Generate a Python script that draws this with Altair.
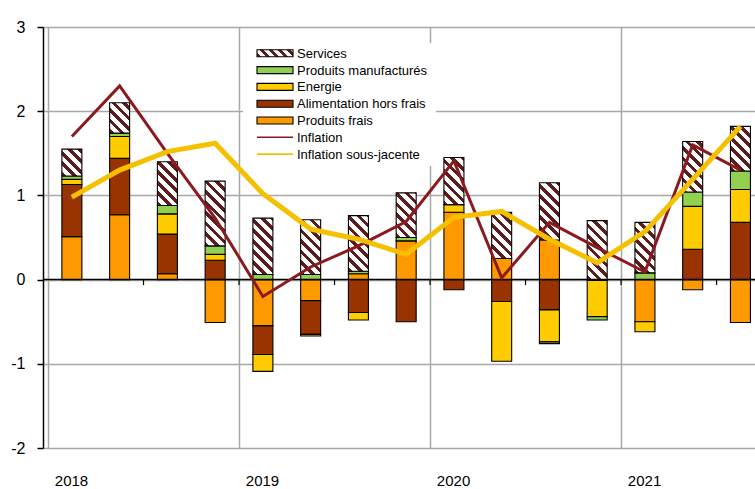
import altair as alt
import pandas as pd

# ---------------- data ----------------
quarters = ["2018T1", "2018T2", "2018T3", "2018T4",
            "2019T1", "2019T2", "2019T3", "2019T4",
            "2020T1", "2020T2", "2020T3", "2020T4",
            "2021T1", "2021T2", "2021T3"]
years = ["2018", "2019", "2020", "2021"]

produits_frais = [0.51, 0.77, 0.07, -0.51, -0.55, -0.25, 0.07, 0.46, 0.80, 0.25, 0.47, 0.00, -0.50, -0.12, -0.51]
alimentation   = [0.62, 0.67, 0.47, 0.23, -0.34, -0.40, -0.39, -0.50, -0.12, -0.26, -0.36, -0.01, 0.00, 0.36, 0.68]
energie        = [0.06, 0.26, 0.24, 0.07, -0.20, -0.02, -0.09, 0.00, 0.09, -0.71, -0.38, -0.43, -0.12, 0.51, 0.39]
manufactures   = [0.04, 0.04, 0.10, 0.10, 0.06, 0.06, 0.03, 0.04, 0.00, 0.00, -0.02, -0.04, 0.08, 0.17, 0.22]
services       = [0.32, 0.36, 0.52, 0.77, 0.67, 0.65, 0.66, 0.53, 0.56, 0.55, 0.68, 0.70, 0.60, 0.60, 0.53]
inflation      = [1.70, 2.30, 1.50, 0.73, -0.20, 0.15, 0.40, 0.69, 1.41, 0.02, 0.68, 0.38, 0.09, 1.60, 1.30]
inflation_sj   = [0.98, 1.30, 1.52, 1.62, 1.02, 0.60, 0.48, 0.30, 0.74, 0.81, 0.48, 0.20, 0.57, 1.19, 1.82]

components = ["Produits frais", "Alimentation hors frais", "Energie", "Produits manufacturés", "Services"]
comp_colors = ["#FF9900", "#993300", "#FFCC00", "#92D050"]
legend_labels = ["Services", "Produits manufacturés", "Energie", "Alimentation hors frais",
                 "Produits frais", "Inflation", "Inflation sous-jacente"]
series = [produits_frais, alimentation, energie, manufactures, services]

# ---------------- layout constants ----------------
W, H = 712, 421
PAD_L, PAD_T = 43, 27
X_MAX = 14.7
Y_MIN, Y_MAX = -2, 3
PX_PER_UNIT = H / (Y_MAX - Y_MIN)
BAR_W = 20
FONT = "Liberation Sans, Arial, sans-serif"
HATCH = "#5a1e1e"
GRID = "#a8a8a8"
INFL_COLOR = "#8B1A1F"
SJ_COLOR = "#F5C000"


def hatch(w, h, period=10.5, dark=0.45, color=HATCH):
    """diagonal '\\' stripes as a linear gradient in bounding-box units"""
    L = w + h
    k = L / (w * w + h * h)
    stops = []
    j = 0
    while j * period <= L:
        a = j * period / L
        b = min((j * period + dark * period) / L, 1.0)
        stops += [{"offset": a, "color": "white"}, {"offset": a, "color": color},
                  {"offset": b, "color": color}, {"offset": b, "color": "white"}]
        j += 1
    stops.append({"offset": 1.0, "color": "white"})
    return {"gradient": "linear", "x1": 0, "y1": 1, "x2": k * w, "y2": 1 - k * h, "stops": stops}


rows = []
for ci, (name, vals) in enumerate(zip(components, series)):
    for qi, v in enumerate(vals):
        rows.append({"i": qi, "quarter": quarters[qi], "comp": name, "order": ci, "value": v})
bars_df = pd.DataFrame(rows)

lines_df = pd.DataFrame({"i": list(range(len(quarters))), "quarter": quarters,
                         "inflation": inflation, "sj": inflation_sj})

x_scale = alt.Scale(domain=[0, X_MAX], nice=False, zero=False)
y_scale = alt.Scale(domain=[Y_MIN, Y_MAX], nice=False)

x_axis = alt.Axis(values=[0, 4, 8, 12], grid=True, gridColor=GRID, gridWidth=1.5,
                  domain=False, ticks=False, labelOffset=23, labelPadding=25, labelFlush=False,
                  labelExpr="[" + ",".join("'%s'" % y for y in years) + "][datum.value / 4]",
                  labelFont=FONT, labelFontSize=15, labelColor="black", title=None)
y_axis = alt.Axis(values=list(range(Y_MIN, Y_MAX + 1)), grid=True, gridColor=GRID, gridWidth=1.5,
                  domainColor="black", domainWidth=1.5, tickColor="black", tickWidth=1.5,
                  tickSize=6, labelPadding=12, labelExpr="'' + datum.value",
                  labelFont=FONT, labelFontSize=16, labelColor="black", title=None)

base = (alt.Chart(bars_df)
        .transform_filter("datum.value != 0")
        .transform_stack(stack="value", groupby=["i"], as_=["y0", "y1"],
                         sort=[alt.SortField("order", order="ascending")])
        .transform_calculate(xc="datum.i + 0.5"))

fill_scale = alt.Scale(domain=components[:4], range=comp_colors)

colored = (base.transform_filter("datum.comp != 'Services'")
           .mark_bar(width=BAR_W, stroke="black", strokeWidth=1.1, clip=True)
           .encode(x=alt.X("xc:Q", scale=x_scale, axis=x_axis),
                   y=alt.Y("y1:Q", scale=y_scale, axis=y_axis),
                   y2="y0:Q",
                   fill=alt.Fill("comp:N", scale=fill_scale, legend=None)))

serv_conditions = [{"test": "datum.i == %d" % qi, "value": hatch(BAR_W, v * PX_PER_UNIT)}
                   for qi, v in enumerate(services)]
serv = (base.transform_filter("datum.comp == 'Services'")
        .mark_bar(width=BAR_W, stroke="black", strokeWidth=1.1, clip=True)
        .encode(x="xc:Q", y="y1:Q", y2="y0:Q",
                fill=alt.FillValue(value="white", condition=serv_conditions)))

zero_rule = (alt.Chart(pd.DataFrame({"z": [0]}))
             .mark_rule(color="black", strokeWidth=1.5)
             .encode(y="z:Q"))

zero_ticks = (alt.Chart(pd.DataFrame({"t": list(range(2, 15, 2))}))
              .transform_calculate(lo="-0.065", hi="0")
              .mark_rule(color="black", strokeWidth=1.2)
              .encode(x="t:Q", y="lo:Q", y2="hi:Q"))

line_infl = (alt.Chart(lines_df).transform_calculate(xc="datum.i + 0.5")
             .mark_line(color=INFL_COLOR, strokeWidth=3, clip=True)
             .encode(x="xc:Q", y="inflation:Q"))
line_sj = (alt.Chart(lines_df).transform_calculate(xc="datum.i + 0.5")
           .mark_line(color=SJ_COLOR, strokeWidth=5, clip=True)
           .encode(x="xc:Q", y="sj:Q"))

# ---------------- legend (drawn in pixel space of the plot area) ----------------
LEG_Y0 = 53.3 - PAD_T
LEG_DY = 16.8
SW_X0, SW_X1, TX_X = 257 - PAD_L, 293 - PAD_L, 297 - PAD_L

leg_df = pd.DataFrame({"label": legend_labels, "row": list(range(len(legend_labels)))})
leg_base = alt.Chart(leg_df).transform_calculate(
    ly="%f + %f * datum.row" % (LEG_Y0, LEG_DY),
    ly0="%f + %f * datum.row - 3.5" % (LEG_Y0, LEG_DY),
    ly1="%f + %f * datum.row + 3.5" % (LEG_Y0, LEG_DY))

leg_bg = (alt.Chart(pd.DataFrame({"a": [0]}))
          .mark_rect(fill="white")
          .encode(x=alt.value(243 - PAD_L), x2=alt.value(436 - PAD_L),
                  y=alt.value(43 - PAD_T), y2=alt.value(166 - PAD_T)))

leg_rect = (leg_base.transform_filter("datum.row >= 1 && datum.row <= 4")
            .transform_calculate(comp="datum.label")
            .mark_rect(stroke="black", strokeWidth=1.1)
            .encode(x=alt.value(SW_X0), x2=alt.value(SW_X1),
                    y=alt.Y("ly0:Q", scale=None), y2="ly1:Q",
                    fill=alt.Fill("comp:N", scale=fill_scale, legend=None)))
leg_serv = (leg_base.transform_filter("datum.row == 0")
            .mark_rect(stroke="black", strokeWidth=1.1, fill=hatch(36, 7, period=9))
            .encode(x=alt.value(SW_X0), x2=alt.value(SW_X1),
                    y=alt.Y("ly0:Q", scale=None), y2="ly1:Q"))
leg_l1 = (leg_base.transform_filter("datum.row == 5")
          .mark_rule(color=INFL_COLOR, strokeWidth=1.6)
          .encode(x=alt.value(SW_X0), x2=alt.value(SW_X1), y=alt.Y("ly:Q", scale=None)))
leg_l2 = (leg_base.transform_filter("datum.row == 6")
          .mark_rule(color=SJ_COLOR, strokeWidth=1.6)
          .encode(x=alt.value(SW_X0), x2=alt.value(SW_X1), y=alt.Y("ly:Q", scale=None)))
leg_text = (leg_base.transform_calculate(ty="%f + %f * datum.row + 0.5" % (LEG_Y0, LEG_DY))
            .mark_text(align="left", baseline="middle", font=FONT, fontSize=13, color="black")
            .encode(x=alt.value(TX_X), y=alt.Y("ty:Q", scale=None), text="label:N"))

chart = (alt.layer(colored, serv, zero_rule, zero_ticks, line_infl, line_sj,
                   leg_bg, leg_rect, leg_serv, leg_l1, leg_l2, leg_text)
         .properties(width=W, height=H, background="white",
                     padding={"left": PAD_L, "top": PAD_T, "right": 0, "bottom": 41},
                     autosize=alt.AutoSizeParams(type="none"))
         .configure_view(stroke=None))

chart.save("out.html", embed_options={"renderer": "svg", "actions": False})
